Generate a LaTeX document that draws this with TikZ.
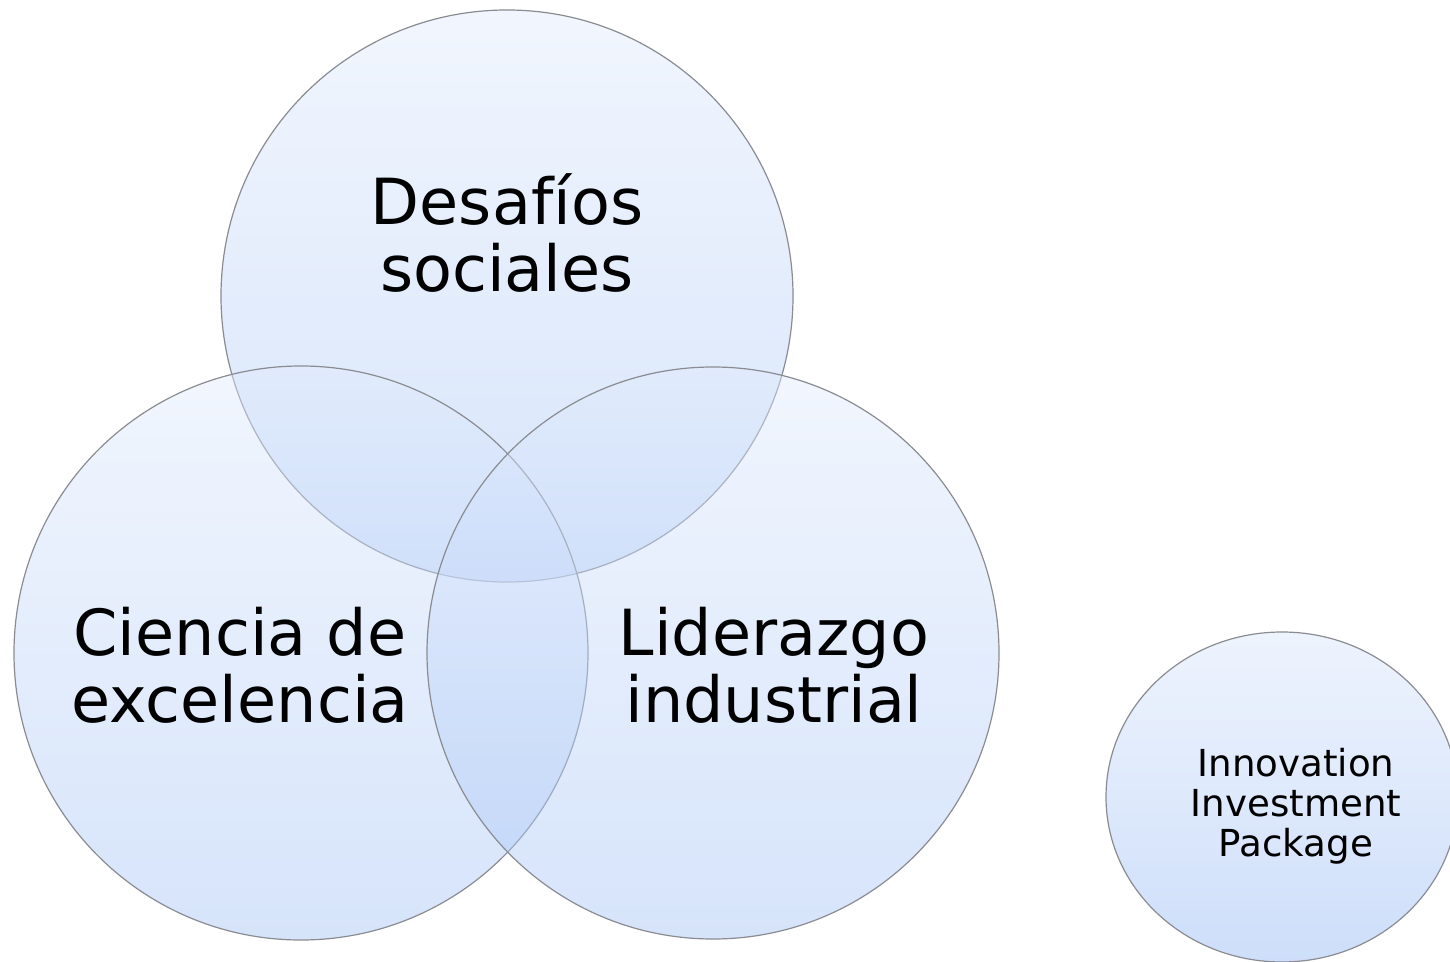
\documentclass[tikz,border=0pt]{standalone}
\usepackage{fontspec}
\setmainfont{DejaVu Sans}
\begin{document}
\begin{tikzpicture}[x=0.5pt,y=-0.5pt,
  venn/.style={draw={rgb,255:red,138;green,140;blue,146}, line width=0.6pt,
    top color={rgb,255:red,225;green,235;blue,253},
    bottom color={rgb,255:red,165;green,196;blue,246},
    fill opacity=0.45},
  biglabel/.style={align=center, inner sep=0pt, text=black,
    font=\fontsize{31.8}{33.5}\selectfont},
  smalllabel/.style={align=center, inner sep=0pt, text=black,
    font=\fontsize{18.6}{20}\selectfont}]
\useasboundingbox (0,0) rectangle (1450,962);
\fill[white] (0,0) rectangle (1450,962);
\begin{scope}
\clip (0,0) rectangle (1450,962);
\path[venn] (507,296) circle[radius=143pt];
\path[venn] (301,653) circle[radius=143.5pt];
\path[venn] (713,653) circle[radius=143pt];
\path[venn, fill opacity=0.55] (1282,797) ellipse[x radius=88pt, y radius=82.5pt];
\end{scope}
\node[biglabel] (des) at (507,233) {Desafíos\\sociales};
\node[biglabel] (cie) at (240,665) {Ciencia de\\excelencia};
\node[biglabel] (lid) at (774,665) {Liderazgo\\industrial};
\node[smalllabel] (inn) at (1296,806) {Innovation\\Investment\\Package};
\end{tikzpicture}
\end{document}
